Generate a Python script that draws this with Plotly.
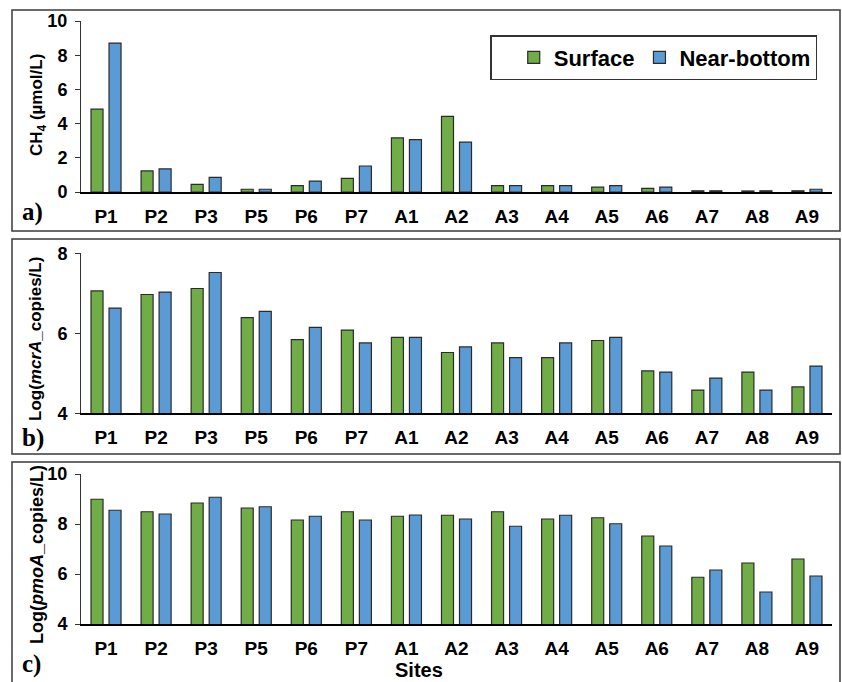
import plotly.graph_objects as go

W, H = 842, 682

sites = ["P1", "P2", "P3", "P5", "P6", "P7", "A1", "A2", "A3", "A4", "A5", "A6", "A7", "A8", "A9"]

ch4_surface = [4.85, 1.23, 0.45, 0.16, 0.37, 0.80, 3.16, 4.42, 0.37, 0.37, 0.29, 0.21, 0.07, 0.06, 0.07]
ch4_bottom = [8.71, 1.35, 0.86, 0.16, 0.64, 1.52, 3.06, 2.92, 0.37, 0.37, 0.37, 0.29, 0.07, 0.07, 0.16]

mcra_surface = [7.06, 6.97, 7.12, 6.39, 5.84, 6.08, 5.90, 5.52, 5.76, 5.39, 5.82, 5.06, 4.58, 5.03, 4.66]
mcra_bottom = [6.63, 7.03, 7.52, 6.55, 6.15, 5.76, 5.90, 5.66, 5.39, 5.76, 5.90, 5.03, 4.88, 4.58, 5.18]

pmoa_surface = [8.99, 8.49, 8.84, 8.64, 8.16, 8.49, 8.31, 8.35, 8.49, 8.20, 8.25, 7.52, 5.87, 6.44, 6.60]
pmoa_bottom = [8.55, 8.40, 9.07, 8.69, 8.31, 8.16, 8.36, 8.20, 7.91, 8.35, 8.01, 7.12, 6.16, 5.28, 5.92]

GREEN = "#70AD47"
BLUE = "#5B9BD5"
OUTLINE = "#2b2b2b"
FONT = "Liberation Sans"


def px_x(x):
    return x / W


def px_y(y):
    return 1 - y / H


fig = go.Figure()

panels = [
    (ch4_surface, ch4_bottom, "", "y"),
    (mcra_surface, mcra_bottom, "2", "y2"),
    (pmoa_surface, pmoa_bottom, "3", "y3"),
]
for i, (surf, bot, sfx, yref) in enumerate(panels):
    xa = "x" + sfx
    fig.add_trace(go.Bar(x=sites, y=surf, name="Surface", xaxis=xa, yaxis=yref,
                         marker=dict(color=GREEN, line=dict(color=OUTLINE, width=1.2)),
                         showlegend=(i == 0)))
    fig.add_trace(go.Bar(x=sites, y=bot, name="Near-bottom", xaxis=xa, yaxis=yref,
                         marker=dict(color=BLUE, line=dict(color=OUTLINE, width=1.2)),
                         showlegend=(i == 0)))

xdom = [px_x(81), px_x(832)]
tickfont_x = dict(family=FONT, size=19, color="black", weight="bold")
tickfont_y = dict(family=FONT, size=18, color="black", weight="bold")

common_x = dict(domain=xdom, showline=True, linecolor="black", linewidth=1.5,
                ticks="", tickfont=tickfont_x, showgrid=False, zeroline=False,
                range=[-0.5, 14.5], automargin=False, ticklabelstandoff=6)
common_y = dict(showline=True, linecolor="#333333", linewidth=1, ticks="outside",
                ticklen=5, tickcolor="#333333", tickfont=tickfont_y, showgrid=False,
                zeroline=False, dtick=2, automargin=False, ticklabelstandoff=4)

fig.update_layout(
    xaxis=dict(**common_x, anchor="y"),
    yaxis=dict(**common_y, domain=[px_y(192), px_y(21)], range=[0, 10], anchor="x"),
    xaxis2=dict(**common_x, anchor="y2"),
    yaxis2=dict(**common_y, domain=[px_y(413.3), px_y(253.3)], range=[4, 8], anchor="x2"),
    xaxis3=dict(**common_x, anchor="y3"),
    yaxis3=dict(**common_y, domain=[px_y(624), px_y(474)], range=[4, 10], anchor="x3"),
)

# panel frames
shapes = []
for y0, y1 in [(10, 231), (239, 454), (462, 700)]:
    shapes.append(dict(type="rect", xref="paper", yref="paper",
                       x0=px_x(12), x1=px_x(840), y0=px_y(y1), y1=px_y(y0),
                       line=dict(color="#3a3a3a", width=1.5), fillcolor="rgba(0,0,0,0)",
                       layer="below"))

annotations = []
ytitles = [
    ("CH<sub>4</sub> (µmol/L)", 38, 105, 17),
    ("Log(<i>mcrA</i>_copies/L)", 35, 339, 17),
    ("Log(<i>pmoA</i>_copies/L)", 37, 555, 18),
]
for text, x, y, size in ytitles:
    annotations.append(dict(text=text, x=px_x(x), y=px_y(y), xref="paper", yref="paper",
                            textangle=-90, showarrow=False, xanchor="center", yanchor="middle",
                            font=dict(family=FONT, size=size, color="black", weight="bold")))

for text, y in [("a)", 212), ("b)", 438), ("c)", 664)]:
    annotations.append(dict(text=text, x=px_x(20), y=px_y(y), xref="paper", yref="paper",
                            showarrow=False, xanchor="left", yanchor="middle",
                            font=dict(family="Liberation Serif", size=25, color="black",
                                      weight="bold")))

annotations.append(dict(text="Sites", x=px_x(419), y=px_y(670), xref="paper", yref="paper",
                        showarrow=False, xanchor="center", yanchor="middle",
                        font=dict(family=FONT, size=20, color="black", weight="bold")))

fig.update_layout(
    width=W, height=H,
    margin=dict(l=0, r=0, t=0, b=0),
    paper_bgcolor="white", plot_bgcolor="white",
    barmode="group", bargap=0.28, bargroupgap=0.333,
    shapes=shapes, annotations=annotations,
    legend=dict(orientation="h", x=px_x(817), y=px_y(35), xanchor="right", yanchor="top",
                bordercolor="#333333", borderwidth=1.5, bgcolor="white",
                font=dict(family=FONT, size=22, color="black", weight="bold"),
                title=dict(text="&nbsp;&nbsp;", font=dict(family=FONT, size=22)),
                itemwidth=30, tracegroupgap=0),
    showlegend=True,
)

fig.write_html("out.html")
